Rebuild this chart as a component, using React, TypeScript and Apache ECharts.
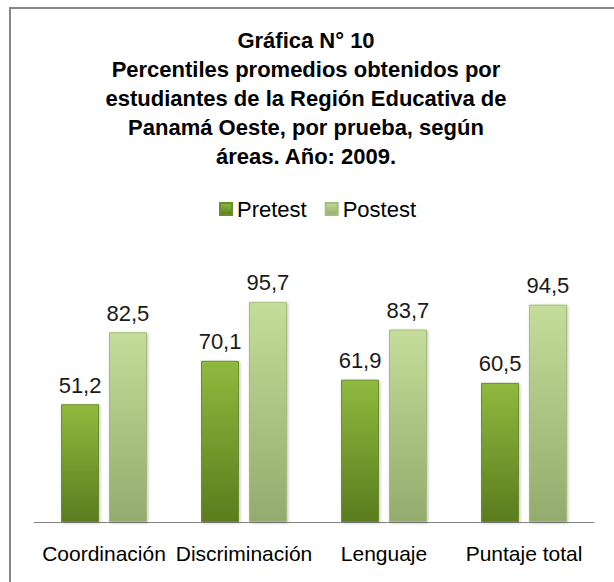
import React, { useEffect, useRef } from "react";
import * as echarts from "echarts";

const categories = ["Coordinación", "Discriminación", "Lenguaje", "Puntaje total"];
const pretest = [51.2, 70.1, 61.9, 60.5];
const postest = [82.5, 95.7, 83.7, 94.5];
const seriesNames = ["Pretest", "Postest"];
const titleText =
  "Gráfica N° 10\nPercentiles promedios obtenidos por\nestudiantes de la Región Educativa de\nPanamá Oeste, por prueba, según\náreas. Año: 2009.";

const fmt = (v: number) => v.toFixed(1).replace(".", ",");

export default function App() {
  const ref = useRef<HTMLDivElement>(null);
  useEffect(() => {
    document.body.style.margin = "0";
    const chart = echarts.init(ref.current!, null, { renderer: "svg" });
    const grad = (top: string, bottom: string) =>
      new echarts.graphic.LinearGradient(0, 0, 0, 1, [
        { offset: 0, color: top },
        { offset: 1, color: bottom },
      ]);
    const font = "'Liberation Sans', Arial, sans-serif";
    const labelStyle = {
      show: true,
      position: "top",
      distance: 8,
      formatter: (p: any) => fmt(p.value),
      fontFamily: font,
      fontSize: 22,
      color: "#1a1a1a",
    };
    chart.setOption({
      animation: false,
      backgroundColor: "#ffffff",
      title: {
        text: titleText,
        left: 301,
        textAlign: "center",
        top: 21,
        textStyle: {
          fontFamily: font,
          fontSize: 22,
          fontWeight: "bold",
          lineHeight: 29,
          color: "#000000",
        },
      },
      legend: {
        data: seriesNames,
        top: 193,
        left: 214,
        itemWidth: 12,
        itemHeight: 12,
        itemGap: 18,
        icon: "rect",
        textStyle: { fontFamily: font, fontSize: 22, color: "#000000" },
      },
      graphic: [
        {
          type: "rect",
          shape: { x: 10, y: 8, width: 800, height: 800 },
          style: { fill: "none", stroke: "#878787", lineWidth: 2 },
          silent: true,
        },
      ],
      grid: { left: 34, right: 20, top: 292, bottom: 60, containLabel: false },
      xAxis: {
        type: "category",
        data: categories,
        axisLine: { lineStyle: { color: "#868686", width: 1 } },
        axisTick: { show: false },
        axisLabel: {
          fontFamily: font,
          fontSize: 21,
          color: "#000000",
          margin: 21,
          interval: 0,
        },
      },
      yAxis: {
        type: "value",
        min: 0,
        max: 100,
        show: false,
        splitLine: { show: false },
      },
      series: [
        {
          name: "Pretest",
          type: "bar",
          data: pretest,
          barWidth: 38,
          barGap: "26%",
          itemStyle: {
            color: grad("#8fba3e", "#5a7c1e"),
            borderColor: "#6a8c2a",
            borderWidth: 1,
            shadowColor: "rgba(0,0,0,0.25)",
            shadowBlur: 3,
            shadowOffsetX: 1,
            shadowOffsetY: 1,
          },
          label: labelStyle,
        },
        {
          name: "Postest",
          type: "bar",
          data: postest,
          barWidth: 38,
          itemStyle: {
            color: grad("#c4dd9a", "#93ab6c"),
            borderColor: "#a4bd7c",
            borderWidth: 1,
            shadowColor: "rgba(0,0,0,0.25)",
            shadowBlur: 3,
            shadowOffsetX: 1,
            shadowOffsetY: 1,
          },
          label: labelStyle,
        },
      ],
    });
    return () => chart.dispose();
  }, []);
  return <div ref={ref} style={{ width: 614, height: 582 }} />;
}
